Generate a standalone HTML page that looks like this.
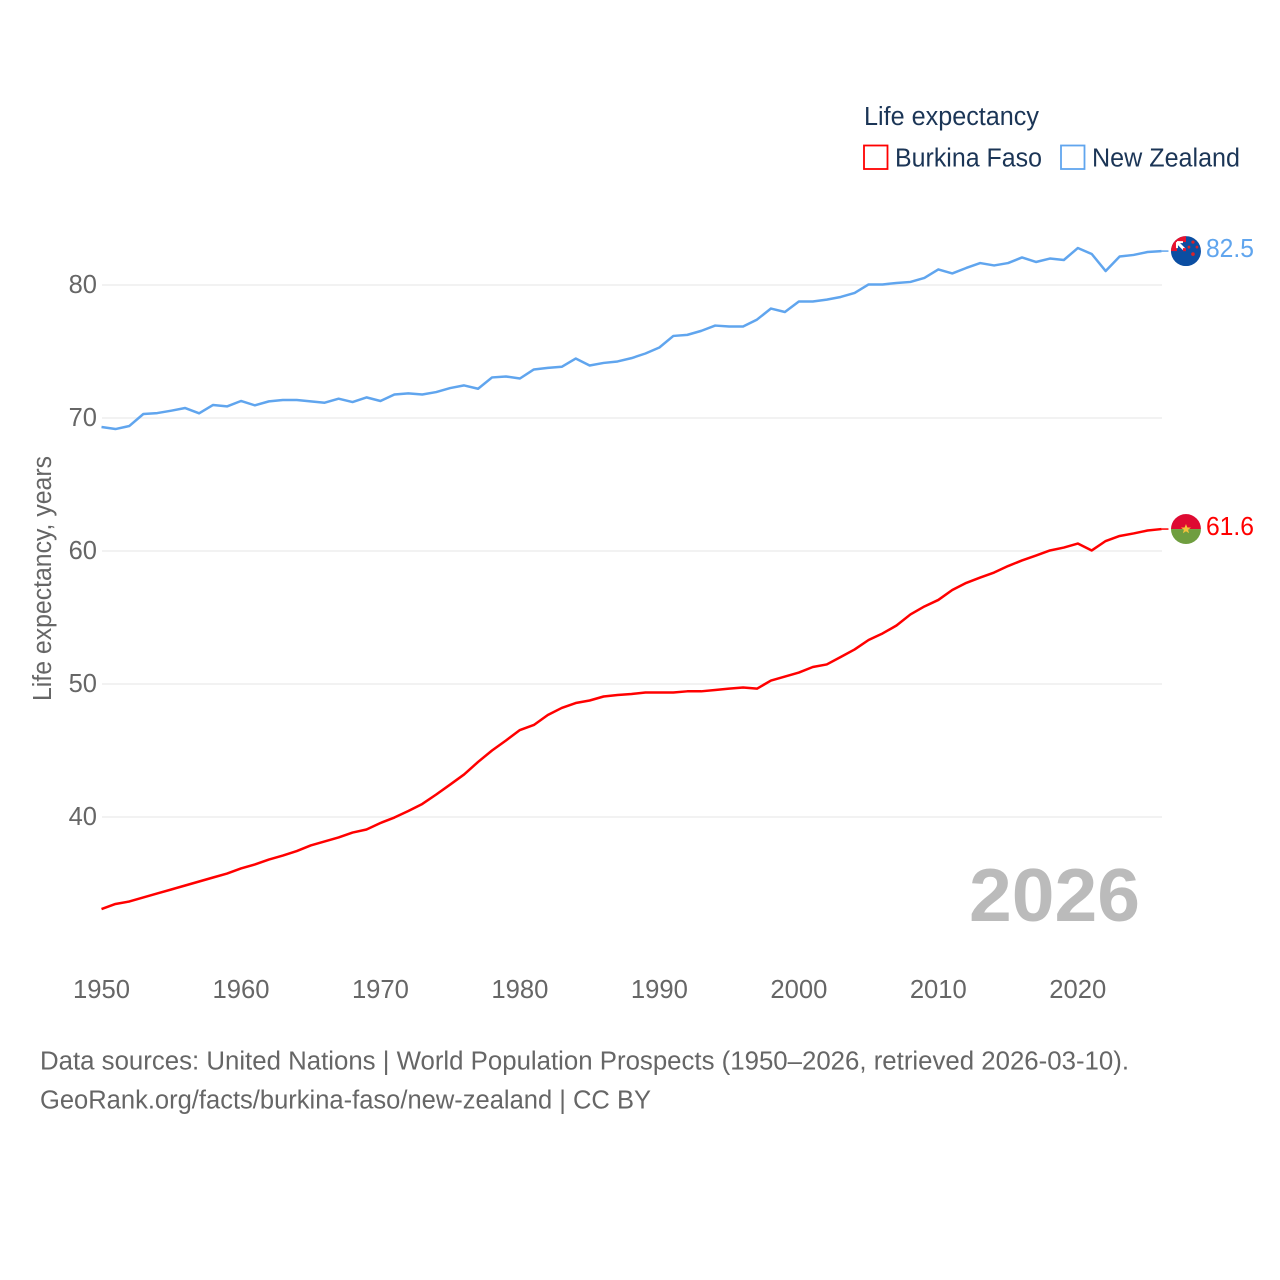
<!DOCTYPE html>
<html lang="en">
<head>
<meta charset="utf-8">
<title>Life expectancy: Burkina Faso vs New Zealand</title>
<style>
html,body{margin:0;padding:0;background:#fff;width:1280px;height:1280px;overflow:hidden}
svg{display:block}
text{font-family:"Liberation Sans",sans-serif;font-size:25.5px}
</style>
</head>
<body>
<svg id="chart" width="1280" height="1280" viewBox="0 0 1280 1280" xmlns="http://www.w3.org/2000/svg">
  <defs>
    <clipPath id="flag-clip"><circle cx="0" cy="0" r="15"/></clipPath>
  </defs>
  <g id="grid"></g>
  <g id="y-ticks"></g>
  <g id="x-ticks"></g>
  <text transform="translate(51 701) rotate(-90)" fill="#666" textLength="245" lengthAdjust="spacingAndGlyphs">Life expectancy, years</text>
  <text x="969" y="921" fill="#bbb" font-weight="bold" style="font-size:75px" textLength="171" lengthAdjust="spacingAndGlyphs">2026</text>
  <path id="line-bf" fill="none" stroke="#ff0000" stroke-width="2.5" stroke-linejoin="round"/>
  <path id="line-nz" fill="none" stroke="#60a5ee" stroke-width="2.5" stroke-linejoin="round"/>
  <path id="stub-bf" fill="none" stroke="#ff0000" stroke-width="1.5"/>
  <path id="stub-nz" fill="none" stroke="#60a5ee" stroke-width="1.5"/>

  <g id="flag-nz">
    <g clip-path="url(#flag-clip)">
      <rect x="-15" y="-15" width="30" height="30" fill="#0b4ea2"/>
      <rect x="-15" y="-15" width="15" height="15" fill="#e8112d"/>
      <rect x="-9" y="-9" width="9" height="9" fill="#0b4ea2"/>
      <path d="M-9 -9L-1 -1" stroke="#fff" stroke-width="3"/>
      <path d="M-9 -9H-3M-9 -9V-3" stroke="#fff" stroke-width="2"/>
      <path d="M-3 -3H0V0H-3Z" fill="#e8112d"/>
      <circle cx="3" cy="-4" r="1.4" fill="#d8232a"/>
      <circle cx="7" cy="-9" r="1.6" fill="#d8232a"/>
      <circle cx="11" cy="-4" r="1.4" fill="#d8232a"/>
      <circle cx="7" cy="3" r="1.8" fill="#d8232a"/>
    </g>
  </g>
  <g id="flag-bf">
    <g clip-path="url(#flag-clip)">
      <rect x="-15" y="-15" width="30" height="15" fill="#de0a32"/>
      <rect x="-15" y="0" width="30" height="15" fill="#6f9e3f"/>
      <polygon points="0,-5 1.4,-1.5 5,-1.5 2.1,0.8 3.1,4.2 0,2.2 -3.1,4.2 -2.1,0.8 -5,-1.5 -1.4,-1.5" fill="#f2c23c"/>
    </g>
  </g>
  <text id="value-nz" fill="#60a5ee" textLength="48" lengthAdjust="spacingAndGlyphs"></text>
  <text id="value-bf" fill="#ff0000" textLength="48" lengthAdjust="spacingAndGlyphs"></text>

  <g>
    <text x="864" y="125" fill="#1b3556" textLength="175" lengthAdjust="spacingAndGlyphs">Life expectancy</text>
    <g>
      <rect x="864" y="145.500" width="23.500" height="23.500" fill="#fff" stroke="#ff0000" stroke-width="1.800"/>
      <text x="895" y="166.500" fill="#1b3556" textLength="147" lengthAdjust="spacingAndGlyphs">Burkina Faso</text>
    </g>
    <g>
      <rect x="1061" y="145.500" width="23.500" height="23.500" fill="#fff" stroke="#60a5ee" stroke-width="1.800"/>
      <text x="1092" y="166.500" fill="#1b3556" textLength="148" lengthAdjust="spacingAndGlyphs">New Zealand</text>
    </g>
  </g>

  <text x="40" y="1069.500" fill="#666" textLength="1089" lengthAdjust="spacingAndGlyphs">Data sources: United Nations | World Population Prospects (1950–2026, retrieved 2026-03-10).</text>
  <text x="40" y="1108.500" fill="#666" textLength="611" lengthAdjust="spacingAndGlyphs">GeoRank.org/facts/burkina-faso/new-zealand | CC BY</text>
</svg>

<script>
const startYear = 1950;
const xTickYears = [1950, 1960, 1970, 1980, 1990, 2000, 2010, 2020];
const yTickValues = [40, 50, 60, 70, 80];
const burkinaFaso = [
  33.08,33.46,33.65,33.95,34.25,34.55,34.85,35.15,35.45,35.75,
  36.13,36.43,36.80,37.10,37.44,37.86,38.16,38.46,38.83,39.06,
  39.55,39.96,40.45,40.98,41.69,42.44,43.20,44.14,45.00,45.75,
  46.54,46.92,47.67,48.20,48.57,48.76,49.06,49.17,49.25,49.36,
  49.36,49.36,49.45,49.45,49.55,49.65,49.74,49.65,50.26,50.56,
  50.86,51.28,51.47,52.03,52.60,53.31,53.80,54.40,55.23,55.83,
  56.32,57.07,57.60,58.00,58.38,58.87,59.29,59.66,60.04,60.26,
  60.56,60.04,60.75,61.13,61.32,61.54,61.65
];
const newZealand = [
  69.32,69.17,69.40,70.30,70.37,70.55,70.75,70.35,70.98,70.87,
  71.28,70.95,71.25,71.35,71.35,71.25,71.15,71.45,71.20,71.55,
  71.28,71.77,71.85,71.77,71.95,72.25,72.45,72.20,73.05,73.12,
  72.97,73.65,73.77,73.85,74.47,73.95,74.14,74.25,74.50,74.85,
  75.30,76.17,76.25,76.55,76.95,76.88,76.88,77.40,78.23,77.97,
  78.76,78.76,78.90,79.10,79.40,80.04,80.04,80.15,80.23,80.53,
  81.17,80.87,81.28,81.65,81.47,81.65,82.07,81.73,81.99,81.88,
  82.78,82.33,81.05,82.14,82.26,82.48,82.55
];

const NS = 'http://www.w3.org/2000/svg';
function xScale(year) { return 101.5 + (year - 1950) * 13.947; }
function yScale(value) { return 817 - (value - 40) * 13.3; }
function linePath(values) {
  return values.map(function (v, i) {
    return (i ? 'L' : 'M') + xScale(startYear + i).toFixed(2) + ' ' + yScale(v).toFixed(2);
  }).join('');
}
function makeEl(tag, parent) {
  const el = document.createElementNS(NS, tag);
  parent.appendChild(el);
  return el;
}

const grid = document.getElementById('grid');
const yTicks = document.getElementById('y-ticks');
yTickValues.forEach(function (v) {
  const line = makeEl('line', grid);
  
  
  line.setAttribute('x1', 102);
  line.setAttribute('x2', 1162);
  line.setAttribute('y1', yScale(v));
  line.setAttribute('y2', yScale(v));
  line.setAttribute('stroke', '#eeeeee');
  line.setAttribute('stroke-width', '1.500');
  const label = makeEl('text', yTicks);
  
  
  label.setAttribute('x', 97);
  label.setAttribute('y', yScale(v) + 8);
  label.setAttribute('text-anchor', 'end');
  label.setAttribute('fill', '#666');
  label.textContent = String(v);
});

const xTicks = document.getElementById('x-ticks');
xTickYears.forEach(function (year) {
  const label = makeEl('text', xTicks);
  
  
  label.setAttribute('x', xScale(year));
  label.setAttribute('y', 998);
  label.setAttribute('text-anchor', 'middle');
  label.setAttribute('fill', '#666');
  label.setAttribute('textLength', '57');
  label.setAttribute('lengthAdjust', 'spacingAndGlyphs');
  label.textContent = String(year);
});

document.getElementById('line-bf').setAttribute('d', linePath(burkinaFaso));
document.getElementById('line-nz').setAttribute('d', linePath(newZealand));

function placeEnd(values, key) {
  const last = values[values.length - 1];
  const endX = xScale(startYear + values.length - 1);
  const y = yScale(last);
  document.getElementById('stub-' + key).setAttribute('d', 'M' + endX + ' ' + y + 'H' + (endX + 7));
  document.getElementById('flag-' + key).setAttribute('transform', 'translate(' + (endX + 24.500) + ' ' + y + ')');
  const label = document.getElementById('value-' + key);
  label.setAttribute('x', endX + 44.500);
  label.setAttribute('y', y + 6);
  label.textContent = last.toFixed(2).slice(0, 4);
}
placeEnd(burkinaFaso, 'bf');
placeEnd(newZealand, 'nz');
</script>
</body>
</html>
